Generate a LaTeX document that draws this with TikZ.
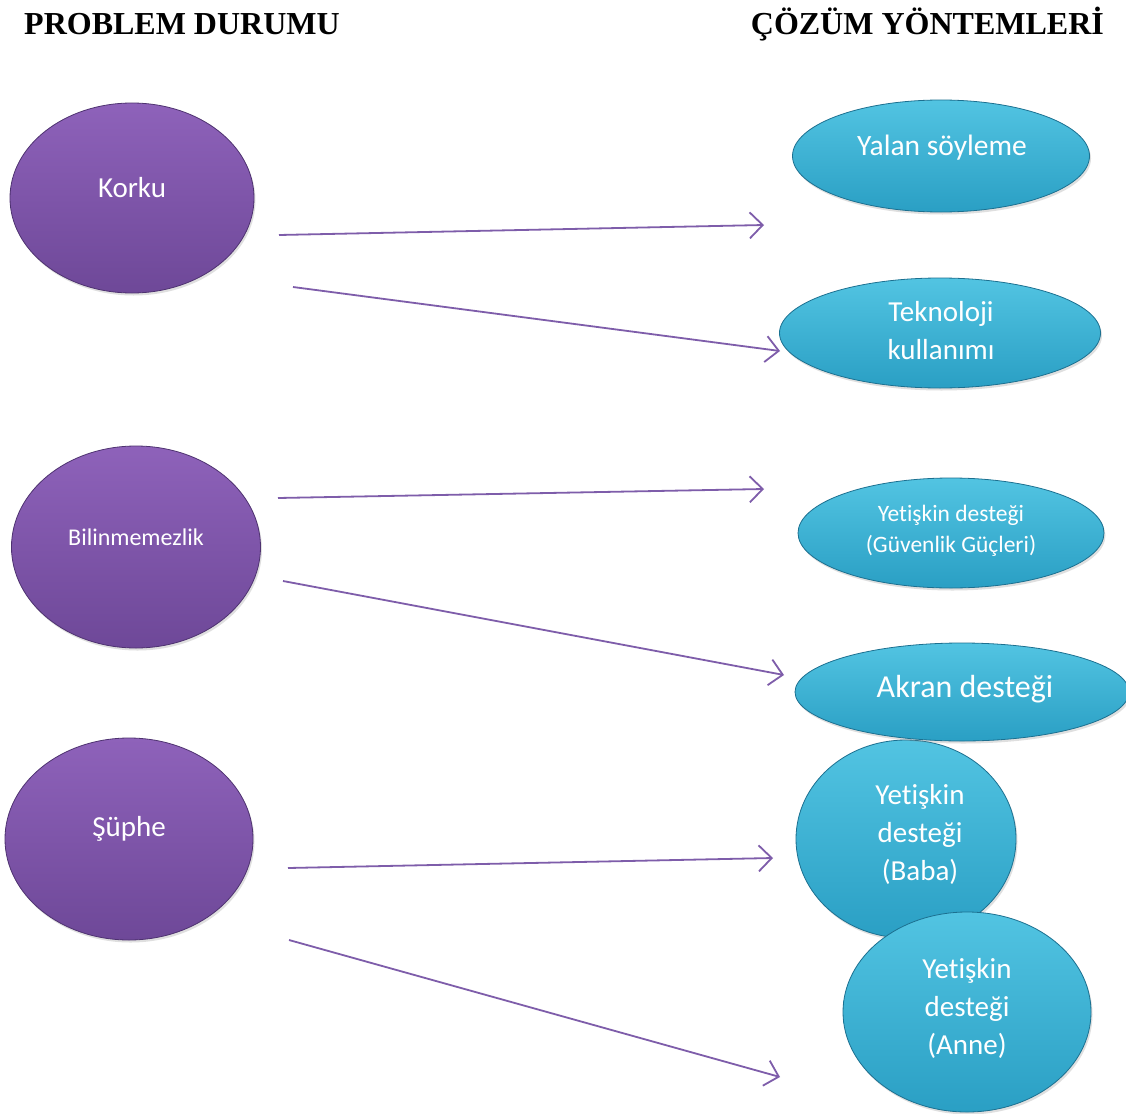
\documentclass[tikz,border=0pt]{standalone}
\usepackage{fontspec}
\setmainfont{Carlito}[Ligatures={NoCommon}]
\newfontfamily\titlefont{Liberation Serif}
\usetikzlibrary{shapes.geometric,arrows.meta,shadows}
\definecolor{pTop}{HTML}{8E62BA}
\definecolor{pBot}{HTML}{6E4898}
\definecolor{pEdge}{HTML}{4E3270}
\definecolor{bTop}{HTML}{52C4E2}
\definecolor{bBot}{HTML}{2A9FC4}
\definecolor{bEdge}{HTML}{1C7090}
\definecolor{arr}{HTML}{7E5DAA}
\tikzset{
  probell/.style={ellipse, draw=pEdge, line width=0.8pt, top color=pTop, bottom color=pBot, inner sep=0pt,
    drop shadow={shadow xshift=1.5pt, shadow yshift=-2.5pt, opacity=0.25}},
  solell/.style={ellipse, draw=bEdge, line width=0.8pt, top color=bTop, bottom color=bBot, inner sep=0pt,
    drop shadow={shadow xshift=1.5pt, shadow yshift=-2.5pt, opacity=0.25}},
  lbl/.style={text=white, align=center, inner sep=0pt},
  conn/.style={draw=arr, line width=1.8pt, -{Straight Barb[length=13pt,width=26pt,line width=1.8pt]}},
  ttl/.style={font=\titlefont\bfseries\fontsize{32}{34}\selectfont, inner sep=0pt}
}
\begin{document}
\begin{tikzpicture}[x=1pt,y=-1pt]
\useasboundingbox[fill=white] (0,0) rectangle (1126,1113);
% titles
\node[ttl, anchor=west] (t1) at (24,24) {PROBLEM DURUMU};
\node[ttl, anchor=east] (t2) at (1104,24) {ÇÖZÜM YÖNTEMLERİ};
% problem ellipses
\node[probell, minimum width=244pt, minimum height=190pt] (korku) at (132,198) {};
\node[lbl, font=\fontsize{29}{33}\selectfont] (korkuT) at (132,188) {Korku};
\node[probell, minimum width=249pt, minimum height=202pt] (bilin) at (136,547) {};
\node[lbl, font=\fontsize{24}{28}\selectfont] (bilinT) at (136,537) {Bilinmemezlik};
\node[probell, minimum width=248pt, minimum height=202pt] (suphe) at (129,839) {};
\node[lbl, font=\fontsize{29}{33}\selectfont] (supheT) at (129,829) {Şüphe};
% solution ellipses
\node[solell, minimum width=297pt, minimum height=112pt] (yalan) at (941,156) {};
\node[lbl, font=\fontsize{29.5}{33}\selectfont] (yalanT) at (942,148) {Yalan söyleme};
\node[solell, minimum width=321pt, minimum height=110pt] (tekno) at (940,333) {};
\node[lbl, font=\fontsize{29}{38}\selectfont] (teknoT) at (941,331) {Teknoloji\\kullanımı};
\node[solell, minimum width=306pt, minimum height=110pt] (guven) at (951,533) {};
\node[lbl, font=\fontsize{23.5}{31}\selectfont] (guvenT) at (951,531) {Yetişkin desteği\\(Güvenlik Güçleri)};
\node[solell, minimum width=220pt, minimum height=198pt] (baba) at (906,839) {};
\node[lbl, font=\fontsize{29}{38}\selectfont] (babaT) at (920,834) {Yetişkin\\desteği\\(Baba)};
\node[solell, minimum width=334pt, minimum height=98pt] (akran) at (962,692) {};
\node[lbl, font=\fontsize{32}{34}\selectfont] (akranT) at (965,689) {Akran desteği};
\node[solell, minimum width=248pt, minimum height=200pt] (anne) at (967,1012) {};
\node[lbl, font=\fontsize{29}{38}\selectfont] (anneT) at (967,1008) {Yetişkin\\desteği\\(Anne)};
% connector end points
\coordinate (a1s) at (279,235); \coordinate (a1e) at (764,225);
\coordinate (a2s) at (293,287); \coordinate (a2e) at (780,351);
\coordinate (a3s) at (278,498); \coordinate (a3e) at (764,489);
\coordinate (a4s) at (283,581); \coordinate (a4e) at (784,675);
\coordinate (a5s) at (288,868); \coordinate (a5e) at (773,858);
\coordinate (a6s) at (289,940); \coordinate (a6e) at (780,1077);
\draw[conn] (a1s) -- (a1e);
\draw[conn] (a2s) -- (a2e);
\draw[conn] (a3s) -- (a3e);
\draw[conn] (a4s) -- (a4e);
\draw[conn] (a5s) -- (a5e);
\draw[conn] (a6s) -- (a6e);
\end{tikzpicture}
\end{document}
